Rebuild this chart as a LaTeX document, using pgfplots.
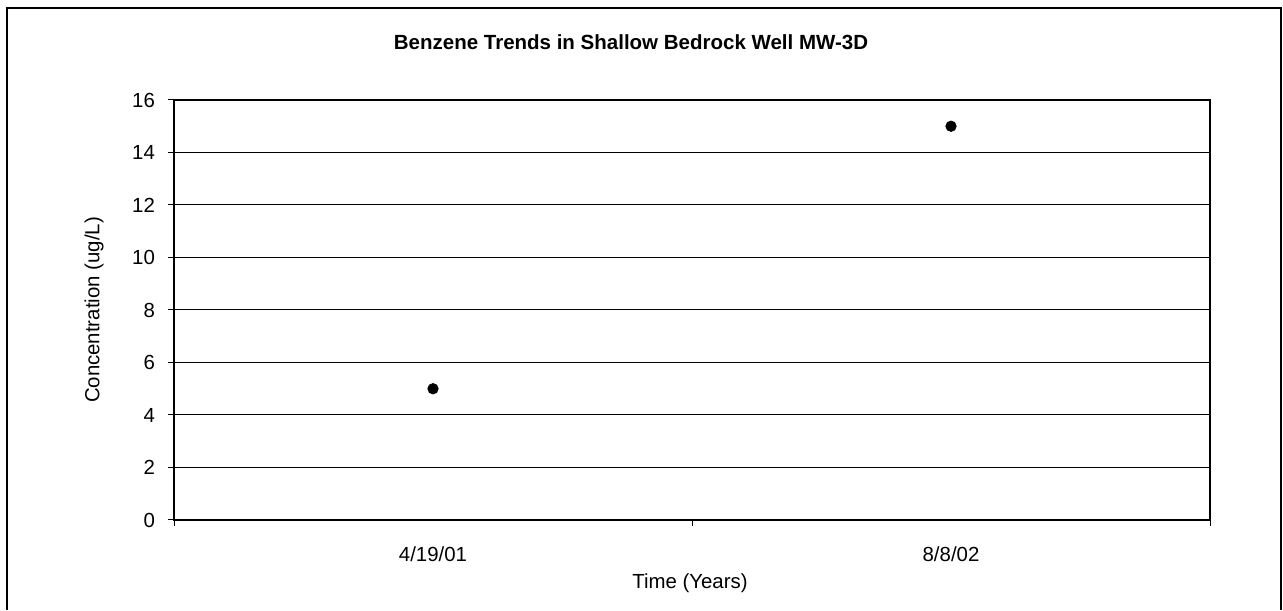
\documentclass[border=0pt]{standalone}
\usepackage{pgfplots}
\pgfplotsset{compat=1.18}
\usepackage{fontspec}
\setmainfont{Liberation Sans}
\begin{document}
\begin{tikzpicture}[x=0.5pt,y=0.5pt]
\path[use as bounding box] (0,0) rectangle (1283,610);
\draw[line width=1pt] (7,0) -- (7,602) -- (1281,602) -- (1281,0);
\begin{axis}[
  at={(87pt,45pt)}, anchor=south west,
  scale only axis, width=518pt, height=210pt,
  xmin=0, xmax=2, ymin=0, ymax=16,
  xtick={0.5,1.5}, xticklabels={4/19/01,8/8/02},
  x tick style={draw=none},
  minor xtick={0,1,2},
  minor x tick style={draw=black, line width=0.5pt},
  minor tick length=3pt,
  ytick={0,2,...,16},
  ymajorgrids, grid style={black, line width=0.5pt},
  y tick style={black, line width=0.5pt},
  major tick length=3pt,
  tick align=outside,
  tick pos=left,
  axis line style={black, line width=0.7pt},
  tick label style={font=\fontsize{10.2}{12}\selectfont},
  /pgf/number format/assume math mode=true,
  xticklabel style={yshift=-7pt},
  yticklabel style={xshift=-3pt},
  clip=false,
]
\addplot[only marks, mark=*, mark size=2.6pt, black] coordinates {(0.5,5) (1.5,15)};
\end{axis}
\node[font=\bfseries\fontsize{10.25}{12}\selectfont] at (631,568) {Benzene Trends in Shallow Bedrock Well MW-3D};
\node[font=\fontsize{10.2}{12}\selectfont, rotate=90] at (94,300) {Concentration (ug/L)};
\node[font=\fontsize{10.2}{12}\selectfont] at (690,27) {Time (Years)};
\end{tikzpicture}
\end{document}
